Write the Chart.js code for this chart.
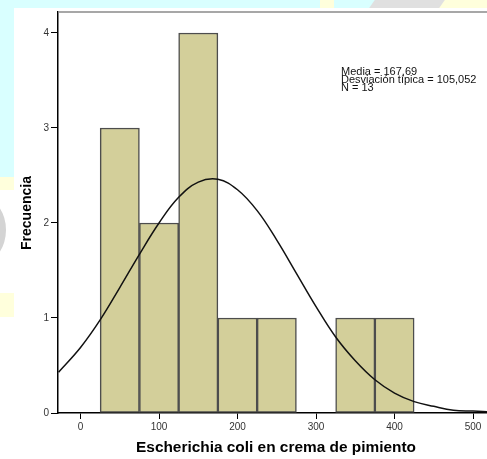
<!DOCTYPE html>
<html><head><meta charset="utf-8">
<script src="https://cdn.jsdelivr.net/npm/chart.js@4"></script>
<style>
html,body{margin:0;padding:0;background:#d9ffff;overflow:hidden}
#wrap{position:relative;width:487px;height:459px;overflow:hidden}
.bg{position:absolute}
canvas{position:absolute;left:0;top:0}
</style></head><body>
<div id="wrap">
<div class="bg" style="left:14px;top:8px;width:473px;height:451px;background:#fff"></div>
<div class="bg" style="left:0;top:177px;width:14px;height:13px;background:#ffffdc"></div>
<div class="bg" style="left:0;top:190px;width:14px;height:103px;background:#fff"></div>
<div class="bg" style="left:-40px;top:198px;width:46px;height:64px;border:9px solid #d4d4d4;border-radius:50%;box-sizing:border-box"></div>
<div class="bg" style="left:0;top:293px;width:14px;height:24px;background:#ffffdc"></div>
<div class="bg" style="left:0;top:317px;width:14px;height:142px;background:#fff"></div>
<div class="bg" style="left:320px;top:0;width:14px;height:8px;background:#ffffdc"></div>
<div class="bg" style="left:427px;top:0;width:60px;height:8px;background:#ffffdc"></div>
<div class="bg" style="left:372px;top:0;width:70px;height:8px;background:#e0e0e0;transform:skewX(-35deg)"></div>
<canvas id="c" width="487" height="459"></canvas>
</div>
<script>
// ---- data ----
const binCenters = [50, 100, 150, 200, 250, 300, 350, 400];
const frequencies = [3, 2, 4, 1, 1, 0, 1, 1];
const curveX = [-28, 0, 25, 50, 75, 100, 125, 150, 175, 200, 225, 250, 275, 300, 325, 350, 375, 400, 425, 450, 475, 500, 525];
const curveY = [0.43, 0.69, 0.98, 1.32, 1.67, 2.00, 2.27, 2.43, 2.46, 2.35, 2.13, 1.82, 1.47, 1.12, 0.80, 0.55, 0.35, 0.21, 0.12, 0.07, 0.03, 0.02, 0.01];
const xTicks = [0, 100, 200, 300, 400, 500];
const yTicks = [0, 1, 2, 3, 4];
const statsLines = ["Media = 167,69", "Desviación típica = 105,052", "N = 13"];
const xTitle = "Escherichia coli en crema de pimiento";
const yTitle = "Frecuencia";

const FONT = '"Liberation Sans", Arial, sans-serif';

const decor = {
  id: 'decor',
  afterDraw(chart) {
    const {ctx, chartArea: a} = chart;
    ctx.save();
    // top frame line
    ctx.strokeStyle = '#8a8a8a';
    ctx.lineWidth = 1.5;
    ctx.beginPath();
    ctx.moveTo(a.left, a.top);
    ctx.lineTo(a.right, a.top);
    ctx.stroke();
    // y title
    ctx.fillStyle = '#000';
    ctx.font = 'bold 14px ' + FONT;
    ctx.textAlign = 'center';
    ctx.textBaseline = 'middle';
    ctx.save();
    ctx.translate(27, 213);
    ctx.rotate(-Math.PI / 2);
    ctx.fillText(yTitle, 0, 0);
    ctx.restore();
    // x title
    ctx.save();
    ctx.font = 'bold 14px ' + FONT;
    ctx.translate(276, 448);
    ctx.scale(1.1, 1);
    ctx.fillText(xTitle, 0, 0);
    ctx.restore();
    // stats
    ctx.font = '10px ' + FONT;
    ctx.fillStyle = '#111';
    ctx.textAlign = 'left';
    ctx.textBaseline = 'alphabetic';
    ctx.save();
    ctx.translate(341, 0);
    ctx.scale(1.1, 1);
    statsLines.forEach((t, i) => ctx.fillText(t, 0, 75 + i * 8.2));
    ctx.restore();
    ctx.restore();
  }
};

new Chart(document.getElementById('c'), {
  type: 'bar',
  data: {
    datasets: [
      {
        type: 'line',
        data: curveX.map((x, i) => ({x, y: curveY[i]})),
        borderColor: '#111',
        borderWidth: 1.5,
        pointRadius: 0,
        tension: 0.4,
        fill: false,
        order: 0
      },
      {
        type: 'bar',
        data: binCenters.map((x, i) => ({x, y: frequencies[i]})),
        backgroundColor: '#d3cf9a',
        borderColor: '#4d4d4d',
        borderWidth: 1.5,
        borderSkipped: false,
        barPercentage: 1,
        categoryPercentage: 1,
        order: 1
      }
    ]
  },
  options: {
    responsive: false,
    animation: false,
    layout: {padding: {top: 12, left: 0, right: 0, bottom: 0}},
    plugins: {legend: {display: false}, tooltip: {enabled: false}},
    scales: {
      x: {
        type: 'linear',
        offset: false,
        min: -28.7,
        max: 517.8,
        afterBuildTicks: s => { s.ticks = xTicks.map(v => ({value: v})); },
        afterFit: s => { s.height = 46; },
        grid: {offset: false, drawOnChartArea: false, drawTicks: true, tickLength: 6, color: '#000', lineWidth: 1},
        border: {display: true, color: '#000', width: 1.5},
        ticks: {font: {family: FONT, size: 10}, color: '#333', padding: 2, maxRotation: 0}
      },
      y: {
        min: 0,
        max: 4.221,
        afterBuildTicks: s => { s.ticks = yTicks.map(v => ({value: v})); },
        afterFit: s => { s.width = 58; },
        grid: {drawOnChartArea: false, drawTicks: true, tickLength: 7, color: '#000', lineWidth: 1},
        border: {display: true, color: '#000', width: 1.5},
        ticks: {font: {family: FONT, size: 10}, color: '#333', padding: 2}
      }
    }
  },
  plugins: [decor]
});
</script>
</body></html>
